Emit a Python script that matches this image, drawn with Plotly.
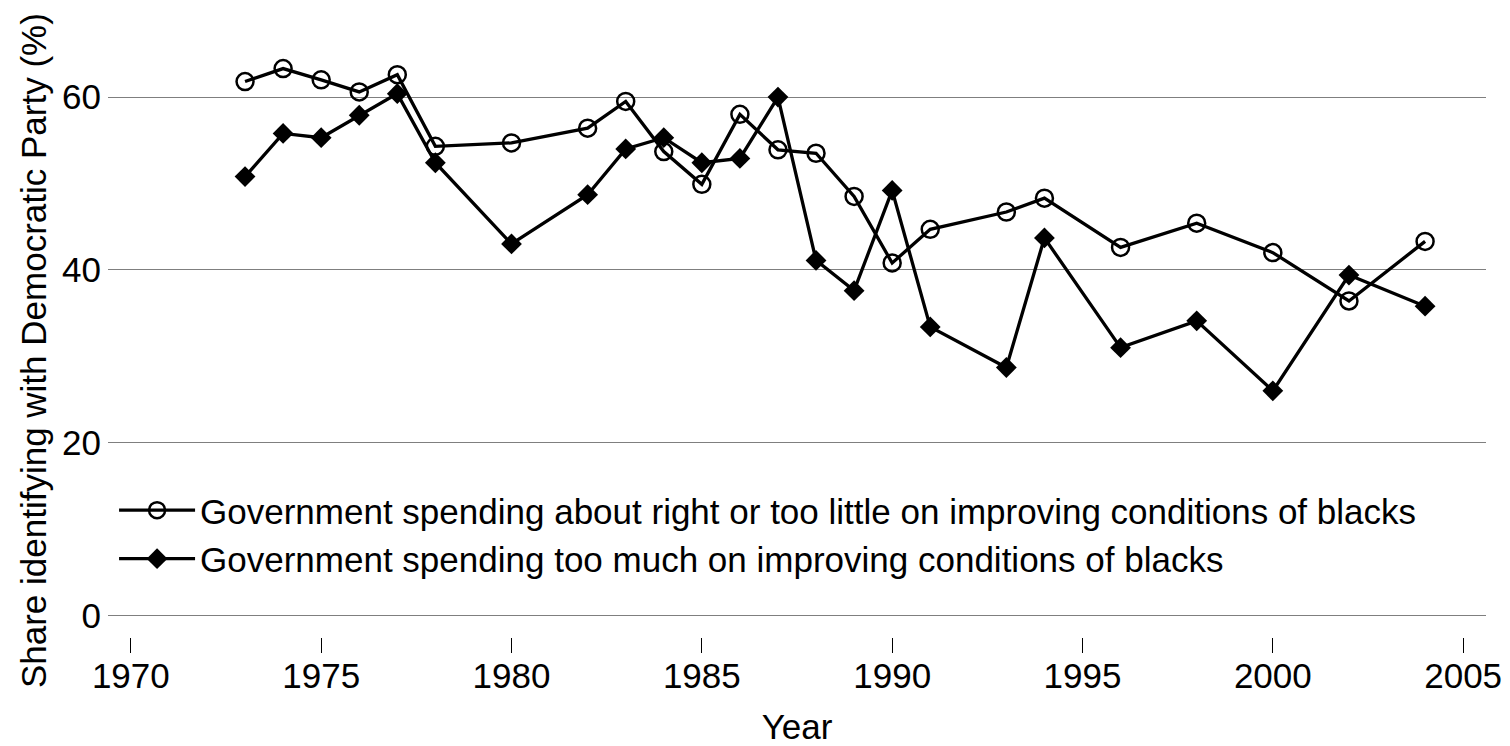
import plotly.graph_objects as go

years = [1973, 1974, 1975, 1976, 1977, 1978, 1980, 1982, 1983, 1984, 1985, 1986,
         1987, 1988, 1989, 1990, 1991, 1993, 1994, 1996, 1998, 2000, 2002, 2004]
about_right = [61.8, 63.3, 62.0, 60.6, 62.6, 54.3, 54.7, 56.4, 59.5, 53.7, 49.9, 58.0,
               53.9, 53.5, 48.5, 40.8, 44.7, 46.7, 48.3, 42.6, 45.4, 42.0, 36.4, 43.3]
too_much = [50.8, 55.8, 55.3, 57.9, 60.4, 52.4, 43.0, 48.7, 54.0, 55.3, 52.4, 52.9,
            60.0, 41.1, 37.6, 49.2, 33.4, 28.7, 43.7, 31.0, 34.1, 26.0, 39.4, 35.8]
name_a = "Government spending about right or too little on improving conditions of blacks"
name_b = "Government spending too much on improving conditions of blacks"
x_ticks = [1970, 1975, 1980, 1985, 1990, 1995, 2000, 2005]
y_ticks = [0, 20, 40, 60]

FONT = "Liberation Sans, Arial, sans-serif"
FS = 35

fig = go.Figure()
fig.add_trace(go.Scatter(
    x=years, y=about_right, name=name_a, mode="lines+markers",
    line=dict(color="black", width=3.3),
    marker=dict(symbol="circle-open", size=17, color="black", line=dict(width=2.5, color="black")),
))
fig.add_trace(go.Scatter(
    x=years, y=too_much, name=name_b, mode="lines+markers",
    line=dict(color="black", width=3.3),
    marker=dict(symbol="diamond", size=16, color="black"),
))

fig.update_layout(
    width=1502, height=738,
    margin=dict(l=100, r=24, t=2, b=109),
    paper_bgcolor="white", plot_bgcolor="white",
    font=dict(family=FONT, size=FS, color="black"),
    showlegend=True,
    legend=dict(x=0.0044, y=0.249, xanchor="left", yanchor="top",
                bgcolor="rgba(0,0,0,0)", font=dict(size=FS),
                tracegroupgap=0, itemwidth=76),
    xaxis=dict(range=[1969.4, 2005.6], tickvals=x_ticks, ticks="outside",
               ticklen=15, tickwidth=1.3, tickcolor="black", showgrid=False,
               zeroline=False, showline=False, ticklabelstandoff=-7,
               title=dict(text="Year", standoff=21, font=dict(size=FS))),
    yaxis=dict(range=[-2.49, 70.08], tickvals=y_ticks, ticks="", showgrid=True,
               gridcolor="#7f7f7f", gridwidth=1.3, zeroline=False, showline=False,
               ticklabelstandoff=6),
    annotations=[dict(text="Share identifying with Democratic Party (%)",
                      textangle=-90, xref="paper", yref="paper",
                      x=-0.0544, y=0.456, xanchor="center", yanchor="middle",
                      showarrow=False, font=dict(size=FS))],
)

fig.write_html("out.html")
